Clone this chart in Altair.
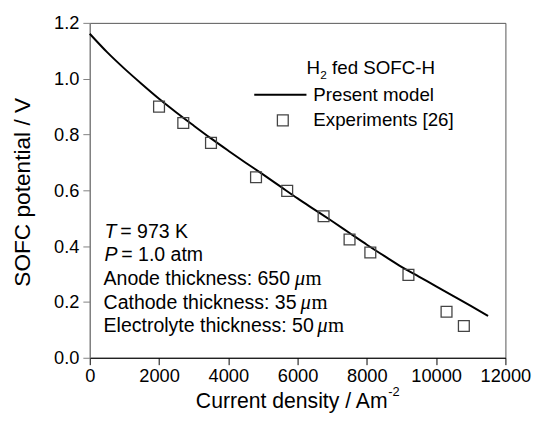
import altair as alt
import pandas as pd

# Model curve (current density A/m^2, potential V)
curve_i = [0, 500, 1000, 1500, 2000, 2500, 3000, 3500, 4000, 4500, 5000, 5500,
           6000, 6500, 7000, 7500, 8000, 8500, 9000, 9500, 10000, 10500, 11000, 11500]
curve_v = [1.161, 1.095, 1.036, 0.981, 0.928, 0.879, 0.832, 0.786, 0.742, 0.699, 0.657, 0.614,
           0.571, 0.530, 0.489, 0.447, 0.405, 0.365, 0.326, 0.291, 0.256, 0.221, 0.186, 0.150]

# Experiments [26]
exp_i = [2000, 2700, 3500, 4800, 5700, 6750, 7500, 8100, 9200, 10300, 10800]
exp_v = [0.900, 0.841, 0.770, 0.647, 0.598, 0.507, 0.424, 0.377, 0.297, 0.165, 0.114]

x_ticks = [0, 2000, 4000, 6000, 8000, 10000, 12000]
y_ticks = [0.0, 0.2, 0.4, 0.6, 0.8, 1.0, 1.2]

FONT = "Liberation Sans"
SERIF = "Liberation Serif"

curve_df = pd.DataFrame({"i": curve_i, "v": curve_v})
exp_df = pd.DataFrame({"i": exp_i, "v": exp_v})

xscale = alt.Scale(domain=[0, 12000], nice=False, zero=False)
yscale = alt.Scale(domain=[0, 1.2], nice=False, zero=False)

xaxis = alt.Axis(values=x_ticks, format="d", title=None, grid=False,
                 domainColor="black", tickColor="black", tickSize=7,
                 labelFont=FONT, labelFontSize=18.5, labelColor="black",
                 labelPadding=2, labelFlush=False, labelOverlap=False)
yaxis = alt.Axis(values=y_ticks, format=".1f", title=None, grid=False,
                 domainColor="#808080", tickColor="#808080", tickSize=7,
                 labelFont=FONT, labelFontSize=18.5, labelColor="black",
                 labelPadding=4, labelFlush=False, labelOverlap=False)

line = alt.Chart(curve_df).mark_line(color="black", strokeWidth=2, interpolate="monotone").encode(
    x=alt.X("i:Q", scale=xscale, axis=xaxis),
    y=alt.Y("v:Q", scale=yscale, axis=yaxis),
)

pts = alt.Chart(exp_df).mark_point(shape="square", filled=False, size=121,
                                   color="#444", strokeWidth=1.3, opacity=1).encode(
    x=alt.X("i:Q", scale=xscale),
    y=alt.Y("v:Q", scale=yscale),
)


def txt(s, x, y, size=19, style="normal", font=FONT, align="left", angle=0, baseline="middle"):
    return alt.Chart(pd.DataFrame({"t": [s]})).mark_text(
        align=align, baseline=baseline, font=font, fontSize=size, fontStyle=style,
        color="black", angle=angle,
    ).encode(x=alt.value(x), y=alt.value(y), text="t:N")


AS = 19.8  # annotation font size

# page coords -> plot coords: x - 91, y - 20
texts = [
    # legend
    txt("H", 311 - 91, 66 - 20, size=19),
    txt("2", 325 - 91, 73 - 20, size=12),
    txt("fed SOFC-H", 337 - 91, 66 - 20, size=19),
    txt("Present model", 318 - 91, 93 - 20, size=19),
    txt("Experiments [26]", 318 - 91, 119 - 20, size=19),
    # annotation
    txt("T", 106 - 91, 232 - 20, size=AS, style="italic"),
    txt("= 973 K", 122 - 91, 232 - 20, size=AS),
    txt("P", 106 - 91, 256 - 20, size=AS, style="italic"),
    txt("= 1.0 atm", 123 - 91, 256 - 20, size=AS),
    txt("Anode thickness: 650", 105 - 91, 280 - 20, size=AS),
    txt("\u03bc", 299 - 91, 280 - 20, size=21, style="italic", font=SERIF),
    txt("m", 310 - 91, 280 - 20, size=21, font=SERIF),
    txt("Cathode thickness: 35", 105 - 91, 304 - 20, size=AS),
    txt("\u03bc", 305 - 91, 304 - 20, size=21, style="italic", font=SERIF),
    txt("m", 316 - 91, 304 - 20, size=21, font=SERIF),
    txt("Electrolyte thickness: 50", 105 - 91, 328 - 20, size=AS),
    txt("\u03bc", 322 - 91, 328 - 20, size=21, style="italic", font=SERIF),
    txt("m", 333 - 91, 328 - 20, size=21, font=SERIF),
    # axis titles
    txt("Current density / Am", 296 - 91, 405 - 20, size=21.5, align="center"),
    txt("-2", 394 - 91, 395 - 20, size=13),
    txt("SOFC potential / V", 23 - 91, 192 - 20, size=23, align="center", angle=270),
]

leg_line = alt.Chart(pd.DataFrame({"a": [0]})).mark_rule(color="black", strokeWidth=2).encode(
    x=alt.value(258 - 91), x2=alt.value(311 - 91), y=alt.value(93 - 20))
leg_sq = alt.Chart(pd.DataFrame({"a": [0]})).mark_point(
    shape="square", filled=False, size=121, color="#444", strokeWidth=1.3, opacity=1).encode(
    x=alt.value(287 - 91), y=alt.value(119 - 20))

chart = alt.layer(line, pts, leg_line, leg_sq, *texts).properties(
    width=422, height=340,
    autosize=alt.AutoSizeParams(type="none"),
    padding={"left": 83, "top": 12, "right": 28, "bottom": 55},
    background="white",
).configure_view(stroke="#555", strokeWidth=1)

chart.save("out.html", embed_options={"renderer": "svg", "actions": False})
